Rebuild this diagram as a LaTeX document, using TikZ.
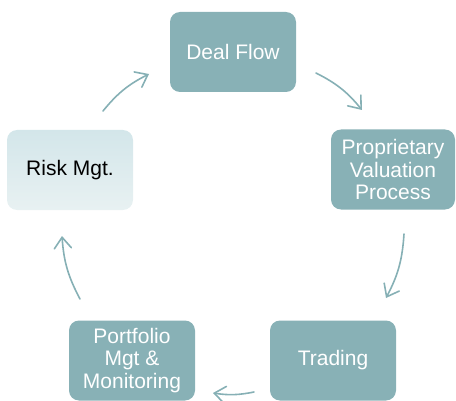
\documentclass[tikz,border=0pt]{standalone}
\usepackage{fontspec}
\setmainfont{Liberation Sans}
\usetikzlibrary{arrows.meta}
\definecolor{boxc}{HTML}{88B1B6}
\definecolor{arrc}{HTML}{86B0B5}
\definecolor{risktop}{HTML}{D3E6EA}
\definecolor{riskbot}{HTML}{E8F1F2}
\begin{document}
\begin{tikzpicture}[x=1pt,y=1pt,
  box/.style={rounded corners=10pt, minimum width=126pt, minimum height=80pt,
    fill=boxc, text=white, align=center, inner sep=0pt,
    font=\fontsize{21}{22.5}\selectfont},
  lightbox/.style={box, fill=none, top color=risktop, bottom color=riskbot, text=black},
  flow/.style={draw=arrc, line width=1.6pt, line cap=round,
    -{Straight Barb[length=11pt,width=17pt,line cap=round]}}]
\useasboundingbox (0,0) rectangle (456,400);
\node[box] (deal) at (233,348) {Deal Flow};
\node[box, minimum width=124pt] (prop) at (393,230.5) {Proprietary\\Valuation\\Process};
\node[box] (trade) at (333,39.5) {Trading};
\node[box] (port) at (132,39.5) {Portfolio\\Mgt \&\\Monitoring};
\node[lightbox] (risk) at (70,230) {Risk Mgt.};
% arrow end points
\coordinate (a1s) at (103,289); \coordinate (a1e) at (149,326);
\coordinate (a2s) at (316,327); \coordinate (a2e) at (362,290);
\coordinate (a3s) at (404,166); \coordinate (a3e) at (386,102);
\coordinate (a4s) at (254,8);   \coordinate (a4e) at (213,7);
\coordinate (a5s) at (80,101);  \coordinate (a5e) at (62,164);
\draw[flow] (a1s) to[bend left=12] (a1e);
\draw[flow] (a2s) to[bend left=12] (a2e);
\draw[flow] (a3s) to[bend left=12] (a3e);
\draw[flow] (a4s) to[bend left=10] (a4e);
\draw[flow] (a5s) to[bend left=12] (a5e);
\end{tikzpicture}
\end{document}
